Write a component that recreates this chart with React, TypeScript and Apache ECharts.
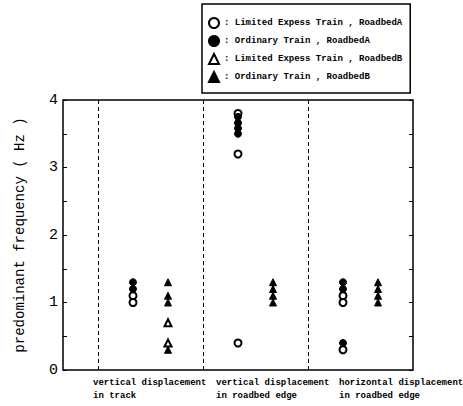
import React, { useEffect, useRef } from "react";
import * as echarts from "echarts";

// Category (x) groups and their two-line labels
const groupLabels = [
  "vertical displacement\nin track",
  "vertical displacement\nin roadbed edge",
  "horizontal displacement\nin roadbed edge",
];

// Series names (legend)
const seriesNames = [
  "Limited Expess Train , RoadbedA",
  "Ordinary Train , RoadbedA",
  "Limited Expess Train , RoadbedB",
  "Ordinary Train , RoadbedB",
];

// predominant frequency values (Hz) per group
const limitedExpressA = [[1.1, 1.0], [3.8, 3.2, 0.4], [1.1, 1.0, 0.3]];
const ordinaryA = [[1.3, 1.2], [3.75, 3.66, 3.58, 3.5], [1.3, 1.2, 0.4]];
const limitedExpressB = [[0.7, 0.4], [], []];
const ordinaryB = [[1.3, 1.1, 1.0, 0.3], [1.3, 1.2, 1.1, 1.0], [1.3, 1.2, 1.1, 1.0]];

// y axis ticks
const yTicks = [0, 1, 2, 3, 4];

const FONT = "'Liberation Mono', 'DejaVu Sans Mono', monospace";

// group g occupies x in [3g+1, 3g+4]; roadbed A at 3g+2, roadbed B at 3g+3
function toPoints(groups: number[][], offset: number) {
  const pts: number[][] = [];
  groups.forEach((arr, g) => arr.forEach((v) => pts.push([g * 3 + offset, v])));
  return pts;
}

export default function App() {
  const ref = useRef<HTMLDivElement>(null);
  useEffect(() => {
    if (!ref.current) return;
    const chart = echarts.init(ref.current, null, { renderer: "svg" });
    const labelX = [93, 216, 339];
    const common = {
      type: "scatter" as const,
      symbolSize: 7,
      itemStyle: { color: "#000", borderColor: "#000", borderWidth: 1, opacity: 1 },
    };
    const tickAxis = (position: "left" | "right", showLabel: boolean) => ({
      type: "value" as const,
      position,
      min: yTicks[0],
      max: yTicks[yTicks.length - 1],
      interval: 1,
      axisLine: { show: false },
      splitLine: { show: false },
      axisTick: { show: true, inside: true, length: 4, lineStyle: { color: "#000", width: 1 } },
      minorTick: { show: true, splitNumber: 2, length: 4, lineStyle: { color: "#000", width: 1 } },
      axisLabel: {
        show: showLabel,
        color: "#000",
        fontFamily: FONT,
        fontSize: 15,
        margin: 5,
      },
    });
    chart.setOption({
      animation: false,
      backgroundColor: "#fff",
      grid: {
        left: 63,
        right: 50,
        top: 100,
        bottom: 36,
        show: true,
        borderColor: "#000",
        borderWidth: 1.5,
        backgroundColor: "transparent",
      },
      legend: {
        orient: "vertical",
        left: 202,
        top: 4,
        padding: [13, 8, 10, 6],
        itemGap: 6,
        itemWidth: 10,
        itemHeight: 10,
        borderColor: "#000",
        borderWidth: 1.5,
        data: seriesNames,
        formatter: (n: string) => ": " + n,
        textStyle: { fontFamily: FONT, fontSize: 9, color: "#000", lineHeight: 12, fontWeight: "bold" },
      },
      xAxis: {
        type: "value",
        min: 0,
        max: 10,
        axisLine: { show: false },
        axisTick: { show: false },
        axisLabel: { show: false },
        splitLine: { show: false },
      },
      yAxis: [
        {
          ...tickAxis("left", true),
          name: "predominant frequency ( Hz )",
          nameLocation: "middle",
          nameGap: 36,
          nameTextStyle: { fontFamily: FONT, fontSize: 14, color: "#000" },
        },
        tickAxis("right", false),
      ],
      graphic: groupLabels.map((t, i) => ({
        type: "text",
        left: labelX[i],
        top: 376,
        style: {
          text: t,
          font: `bold 9px ${FONT}`,
          lineHeight: 13,
          fill: "#000",
        },
      })),
      series: [
        {
          ...common,
          name: seriesNames[0],
          symbol: "emptyCircle",
          data: toPoints(limitedExpressA, 2),
          markLine: {
            silent: true,
            symbol: "none",
            label: { show: false },
            lineStyle: { color: "#000", type: [4, 3], width: 1 },
            data: [1, 4, 7].map((x) => ({ xAxis: x })),
          },
        },
        { ...common, name: seriesNames[1], symbol: "circle", data: toPoints(ordinaryA, 2) },
        { ...common, name: seriesNames[2], symbol: "emptyTriangle", data: toPoints(limitedExpressB, 3) },
        { ...common, name: seriesNames[3], symbol: "triangle", data: toPoints(ordinaryB, 3) },
      ],
    });
    return () => chart.dispose();
  }, []);
  return (
    <div
      ref={ref}
      style={{ position: "fixed", left: 0, top: 0, width: 463, height: 406, background: "#fff" }}
    />
  );
}
